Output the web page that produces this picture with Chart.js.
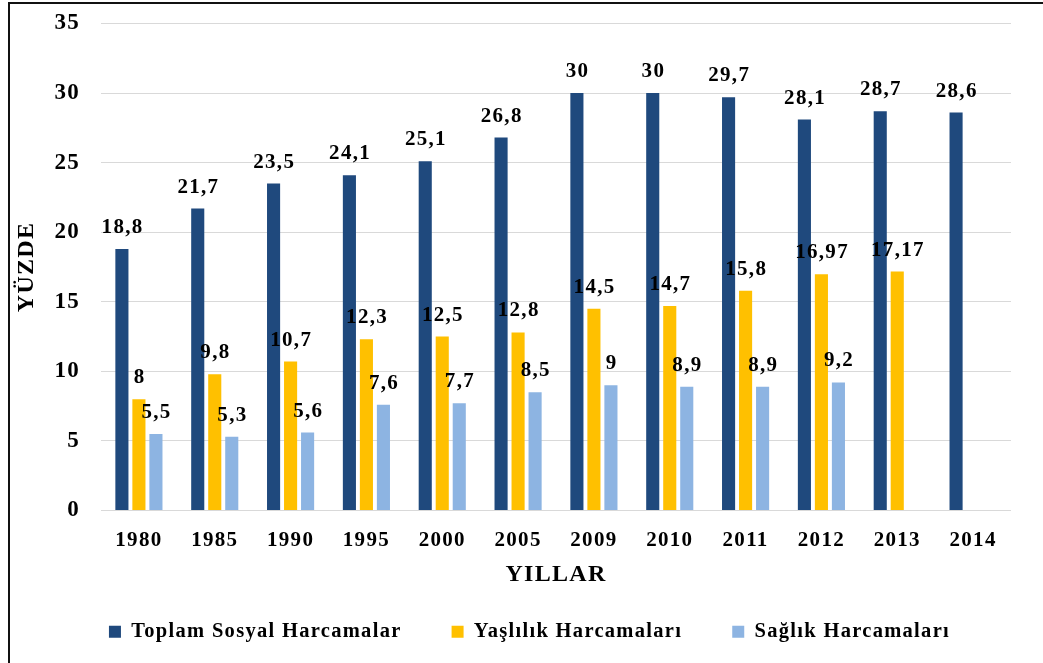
<!DOCTYPE html>
<html><head><meta charset="utf-8">
<script src="https://cdn.jsdelivr.net/npm/chart.js@4"></script>
<style>
html,body{margin:0;padding:0;background:#fff;overflow:hidden;width:1043px;height:663px}
#frame{position:absolute;left:8px;top:2px;width:1100px;height:700px;border-left:2px solid #111;border-top:2px solid #111;box-sizing:border-box}
#wrap{position:absolute;left:0;top:0;width:1043px;height:663px}
</style></head><body>
<div id="frame"></div>
<div id="wrap"><canvas id="c" width="1043" height="663"></canvas></div>
<script>
const years = ['1980','1985','1990','1995','2000','2005','2009','2010','2011','2012','2013','2014'];
const toplam = [18.8, 21.7, 23.5, 24.1, 25.1, 26.8, 30, 30, 29.7, 28.1, 28.7, 28.6];
const yaslilik = [8, 9.8, 10.7, 12.3, 12.5, 12.8, 14.5, 14.7, 15.8, 16.97, 17.17, null];
const saglik = [5.5, 5.3, 5.6, 7.6, 7.7, 8.5, 9, 8.9, 8.9, 9.2, null, null];
const seriesNames = ['Toplam Sosyal Harcamalar', 'Yaşlılık Harcamaları', 'Sağlık Harcamaları'];
const yMin = 0, yMax = 35, yStep = 5;

const FONT = '"Liberation Serif", "Times New Roman", serif';
const SPACING = '1.3px';

const helper = {
  id: 'helper',
  beforeUpdate(chart){ chart.ctx.letterSpacing = SPACING; },
  beforeDraw(chart){ chart.ctx.letterSpacing = SPACING; },
  afterLayout(chart){
    const l = chart.legend;
    if (l) { l.left += 24; l.right += 24; l.top -= 11; l.bottom -= 11; }
  },
  afterDatasetsDraw(chart){
    const ctx = chart.ctx;
    ctx.save();
    ctx.font = 'bold 21px ' + FONT;
    ctx.fillStyle = '#000';
    ctx.textAlign = 'center';
    ctx.textBaseline = 'alphabetic';
    ctx.letterSpacing = SPACING;
    chart.data.datasets.forEach((ds, di) => {
      const meta = chart.getDatasetMeta(di);
      meta.data.forEach((el, i) => {
        const v = ds.data[i];
        if (v === null || v === undefined) return;
        ctx.fillText(String(v).replace('.', ','), el.x + 0.65, el.y - 16);
      });
    });
    ctx.restore();
  }
};

Chart.defaults.font.family = FONT;
Chart.defaults.font.weight = 'bold';
Chart.defaults.color = '#000';

new Chart(document.getElementById('c'), {
  type: 'bar',
  data: {
    labels: years,
    datasets: [
      {label: seriesNames[0], data: toplam, backgroundColor: '#1F497D'},
      {label: seriesNames[1], data: yaslilik, backgroundColor: '#FFC000'},
      {label: seriesNames[2], data: saglik, backgroundColor: '#8DB4E2'}
    ]
  },
  options: {
    responsive: false,
    animation: false,
    devicePixelRatio: 1,
    layout: {padding: {top: 23.5, right: 32, bottom: 0, left: 0}},
    datasets: {bar: {categoryPercentage: 0.673, barPercentage: 0.77}},
    plugins: {
      legend: {
        position: 'bottom',
        labels: {font: {family: FONT, size: 20.5, weight: 'bold'}, color: '#000', boxWidth: 12, boxHeight: 12, padding: 50}
      },
      tooltip: {enabled: false}
    },
    scales: {
      x: {
        grid: {display: false},
        border: {display: false},
        ticks: {font: {size: 21, weight: 'bold'}, color: '#000', padding: 9, maxRotation: 0, autoSkip: false},
        title: {display: true, text: 'YILLAR', color: '#000', font: {size: 24, weight: 'bold', lineHeight: 1}, padding: {top: 0, bottom: -4}},
        afterFit(s){ s.height = 72; s.paddingLeft = 0; s.paddingRight = 0; }
      },
      y: {
        min: yMin, max: yMax,
        ticks: {stepSize: yStep, font: {size: 23, weight: 'bold'}, color: '#000', padding: 21},
        grid: {color: '#d9d9d9', drawTicks: false, lineWidth: 1},
        border: {display: false},
        title: {display: true, text: 'YÜZDE', color: '#000', font: {size: 24, weight: 'bold', lineHeight: 1}, padding: {top: 15, bottom: 0}},
        afterFit(s){ s.width = 101; s.paddingTop = 0; s.paddingBottom = 0; }
      }
    }
  },
  plugins: [helper]
});
</script>
</body></html>
